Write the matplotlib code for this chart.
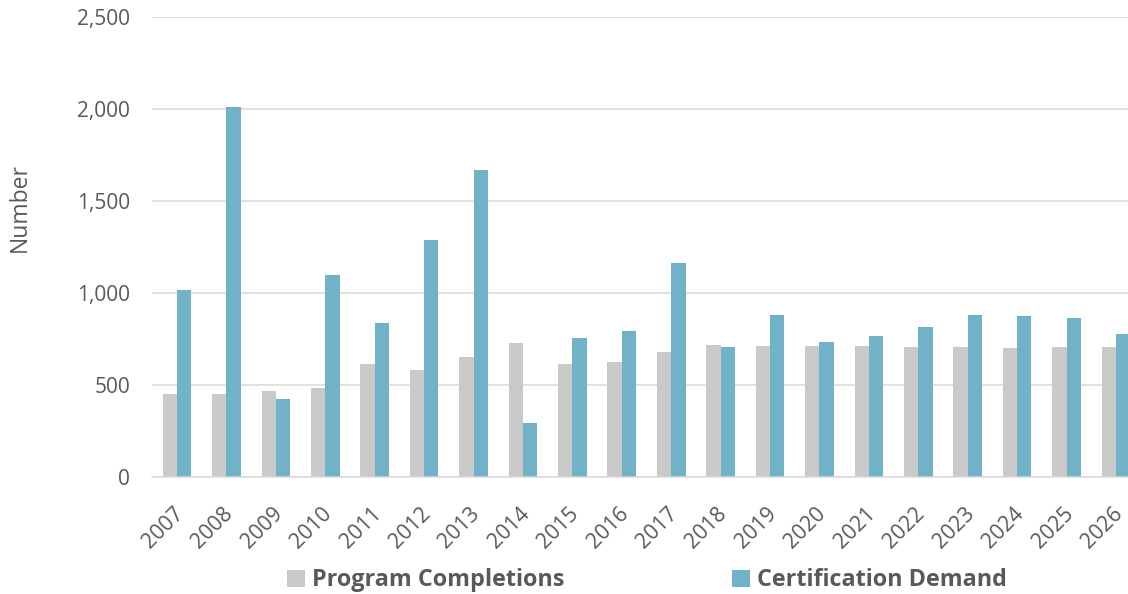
import matplotlib
matplotlib.use("Agg")
import matplotlib.pyplot as plt
import matplotlib.transforms as mtransforms
import numpy as np

years = [str(y) for y in range(2007, 2027)]
program_completions = [449, 449, 467, 482, 614, 578, 649, 725, 612, 621,
                       679, 717, 710, 708, 708, 706, 704, 702, 704, 706]
certification_demand = [1016, 2011, 424, 1098, 833, 1284, 1665, 293, 754, 790,
                        1161, 703, 877, 732, 765, 814, 877, 872, 863, 774]

GRAY = "#C9C9C9"
BLUE = "#72B2C9"
TEXT = "#595959"
GRID = "#D9D9D9"

plt.rcParams["font.family"] = ["Open Sans", "DejaVu Sans"]

fig = plt.figure(figsize=(11.28, 5.94), dpi=100)
# plot area runs slightly past the right edge, as in the reference
ax = fig.add_axes([152.3 / 1128, 117.3 / 594, 988.4 / 1128, 460 / 594])

x = np.arange(len(years))
w = 0.29
ax.bar(x - w / 2, program_completions, w, color=GRAY, linewidth=0,
       label="Program Completions")
ax.bar(x + w / 2, certification_demand, w, color=BLUE, linewidth=0,
       label="Certification Demand")

ax.set_xlim(-0.5, len(years) - 0.5)
ax.set_ylim(0, 2500)
ax.set_yticks(range(0, 2501, 500))
ax.yaxis.set_major_formatter(matplotlib.ticker.FuncFormatter(lambda v, p: f"{int(v):,}"))
ax.grid(axis="y", color=GRID, linewidth=1.1)
ax.set_axisbelow(True)

for s in ["top", "right", "left"]:
    ax.spines[s].set_visible(False)
ax.spines["bottom"].set_color(GRID)
ax.spines["bottom"].set_linewidth(1.1)

ax.tick_params(axis="y", length=0, pad=16, labelsize=15, labelcolor=TEXT)
ax.tick_params(axis="x", length=0, pad=19, labelsize=15.3, labelcolor=TEXT)
ax.set_xticks(x)
ax.set_xticklabels(years, rotation=45, ha="right", rotation_mode="anchor")
# nudge year labels a few pixels left
shift = mtransforms.ScaledTranslation(-4 / 100, 0, fig.dpi_scale_trans)
for lbl in ax.get_xticklabels():
    lbl.set_transform(lbl.get_transform() + shift)

fig.text(20 / 1128, 1 - 208 / 594, "Number", rotation=90, ha="center", va="center",
         fontsize=16.5, color=TEXT)

leg = fig.legend(loc="center", bbox_to_anchor=(647 / 1128, 13.5 / 594), ncol=2,
                 frameon=False, handlelength=0.75, handleheight=0.75,
                 handletextpad=0.3, columnspacing=7.2,
                 prop={"size": 16.8, "weight": "bold"})
for t in leg.get_texts():
    t.set_color(TEXT)

fig.savefig("out.png", dpi=100)
